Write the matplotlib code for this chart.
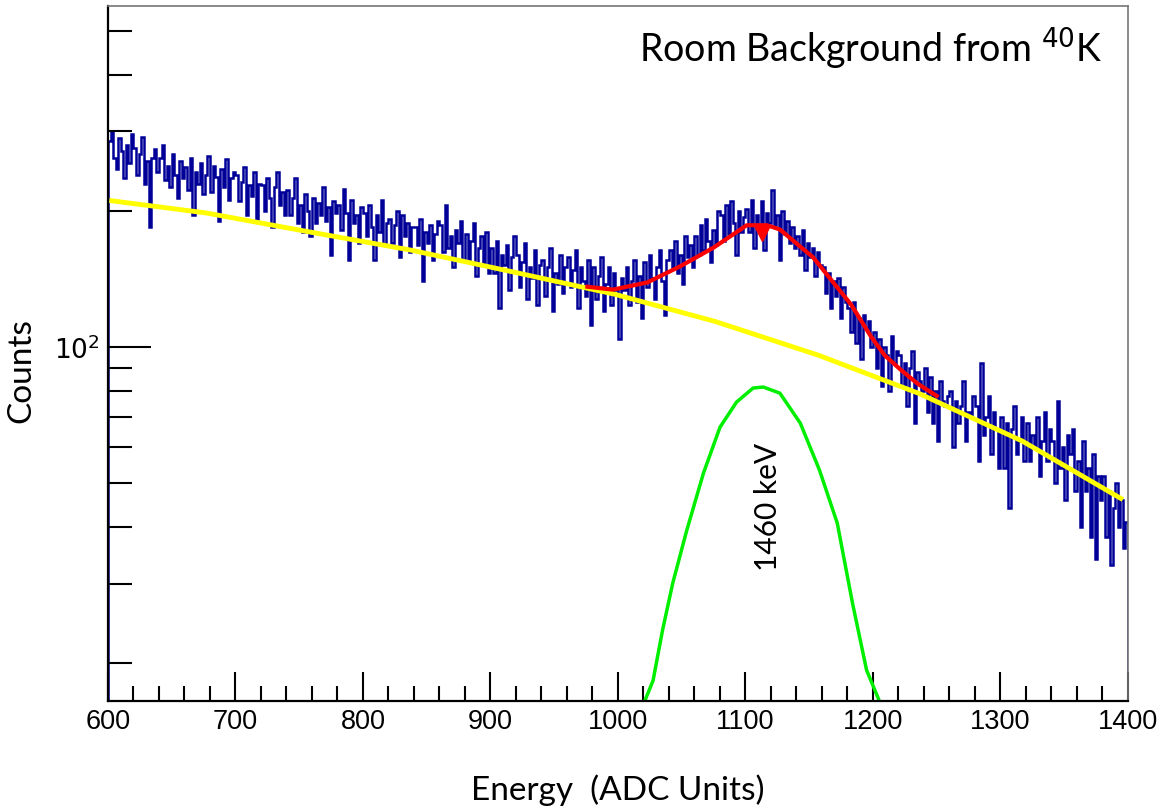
import numpy as np
import matplotlib.pyplot as plt
from matplotlib.ticker import FixedLocator, NullFormatter

# histogram: 2 ADC wide bins from 600 to 1400
edges = np.arange(600, 1401, 2)
counts = [285, 300, 262, 248, 290, 272, 236, 280, 255, 296,
          276, 240, 268, 292, 230, 258, 184, 262, 274, 244,
          262, 280, 234, 252, 226, 268, 240, 214, 258, 236,
          250, 222, 262, 196, 244, 230, 256, 218, 240, 264,
          220, 252, 238, 190, 248, 226, 260, 212, 236, 244,
          240, 210, 232, 250, 196, 228, 216, 244, 192, 230,
          228, 200, 236, 214, 184, 226, 244, 206, 220, 196,
          222, 196, 214, 236, 188, 206, 180, 218, 200, 176,
          214, 188, 208, 196, 226, 190, 204, 160, 210, 198,
          206, 182, 224, 198, 156, 212, 188, 196, 170, 204,
          198, 176, 206, 184, 156, 196, 180, 212, 168, 188,
          192, 170, 186, 200, 158, 196, 176, 188, 162, 184,
          184, 168, 192, 140, 180, 170, 186, 156, 178, 190,
          186, 162, 206, 166, 176, 150, 182, 170, 190, 156,
          178, 154, 172, 188, 144, 166, 176, 152, 180, 146,
          166, 146, 172, 122, 160, 152, 168, 134, 158, 176,
          160, 136, 154, 170, 128, 150, 142, 164, 124, 152,
          156, 130, 150, 166, 120, 146, 138, 160, 132, 150,
          158, 136, 148, 164, 122, 150, 140, 130, 156, 112,
          150, 128, 144, 158, 120, 138, 150, 124, 146, 134,
          104, 142, 134, 150, 124, 140, 156, 126, 144, 116,
          154, 136, 160, 142, 128, 150, 164, 140, 118, 156,
          164, 150, 172, 146, 160, 138, 176, 158, 168, 150,
          176, 160, 186, 164, 192, 172, 154, 182, 168, 200,
          196, 172, 206, 178, 210, 188, 160, 200, 180, 194,
          202, 180, 212, 166, 196, 186, 210, 164, 198, 188,
          222, 186, 196, 156, 200, 178, 190, 170, 184, 166,
          176, 160, 182, 148, 170, 158, 166, 144, 162, 152,
          150, 132, 146, 122, 140, 130, 142, 116, 136, 126,
          122, 108, 126, 102, 116, 94, 118, 110, 114, 100,
          108, 90, 104, 82, 100, 96, 80, 106, 92, 98,
          96, 82, 92, 74, 90, 98, 68, 88, 84, 80,
          90, 72, 86, 68, 80, 62, 84, 76, 74, 78,
          80, 60, 76, 68, 74, 84, 62, 72, 70, 78,
          74, 56, 92, 64, 70, 78, 58, 72, 66, 54,
          70, 54, 68, 44, 66, 74, 58, 62, 70, 56,
          68, 56, 64, 60, 70, 52, 62, 72, 56, 66,
          62, 50, 76, 54, 60, 46, 64, 58, 66, 48,
          56, 40, 62, 48, 54, 38, 58, 34, 52, 46,
          52, 38, 48, 33, 44, 50, 40, 46, 36, 41]

# background fit (yellow)
bkg_x = [601, 677, 757, 837, 916, 997, 1076, 1157, 1236, 1317, 1396]
bkg_y = [211, 198, 180, 164, 147, 131, 114, 96, 79, 62, 46]

# total fit (red)
fit_x = [976, 996, 1023, 1049, 1075, 1101, 1117, 1127, 1153, 1183, 1198, 1209, 1222, 1235, 1250]
fit_y = [136, 134, 139, 151, 166, 186, 186, 182, 158, 124, 106, 96, 89, 83, 78]

# gaussian peak (green)
peak_x = [1021, 1027.5, 1035, 1043, 1054, 1067, 1080, 1093, 1106, 1114, 1127, 1143, 1158, 1172, 1184, 1195, 1205]
peak_y = [16.5, 18.3, 23.7, 30.1, 39.4, 52.6, 66.5, 75.6, 81.2, 81.6, 79.1, 67.9, 53.5, 40.8, 27.1, 19.3, 16.5]

fig = plt.figure(figsize=(11.66, 8.09), dpi=100)
ax = fig.add_axes([0.0926, 0.1335, 0.8748, 0.8591])

ax.stairs(counts, edges, color='#000099', lw=1.8)
ax.plot(bkg_x, bkg_y, color='#ffff00', lw=3.5, solid_capstyle='butt')
ax.plot(fit_x, fit_y, color='#ff0000', lw=3)
ax.plot([1113], [179], marker='v', color='#ff0000', ms=11)
ax.plot(peak_x, peak_y, color='#00ee00', lw=2.5)

ax.set_yscale('log')
ax.set_xlim(600, 1400)
ax.set_ylim(16.5, 568)

ax.yaxis.set_major_locator(FixedLocator([100]))
ax.yaxis.set_minor_locator(FixedLocator([20, 30, 40, 50, 60, 70, 80, 90, 200, 300, 400, 500]))
ax.yaxis.set_minor_formatter(NullFormatter())
ax.set_yticklabels(['$10^2$'])
ax.xaxis.set_major_locator(FixedLocator(np.arange(600, 1401, 100)))
ax.xaxis.set_minor_locator(FixedLocator(np.arange(600, 1401, 20)))

ax.tick_params(axis='y', which='major', direction='in', length=31, width=1.5, labelsize=19, pad=6)
ax.tick_params(axis='y', which='minor', direction='in', length=17, width=1.5)
ax.tick_params(axis='x', which='major', direction='in', length=21, width=1.5, labelsize=19.5, pad=6)
ax.tick_params(axis='x', which='minor', direction='in', length=11, width=1.5)
for lab in ax.get_xticklabels() + ax.get_yticklabels():
    lab.set_family('Liberation Sans')

ax.spines['left'].set_linewidth(1.6)
ax.spines['bottom'].set_linewidth(1.6)
for s in ['top', 'right']:
    ax.spines[s].set_color('#777777')
    ax.spines[s].set_linewidth(1.2)

ax.set_xlabel('Energy  (ADC Units)', family='Lato', fontsize=24, labelpad=28)
ax.set_ylabel('Counts', family='Lato', fontsize=24)
ax.yaxis.set_label_coords(-0.07, 0.476)

ax.text(0.975, 0.972, 'Room Background from $^{40}$K', transform=ax.transAxes,
        ha='right', va='top', family='Lato', fontsize=27)
ax.text(1118, 44.3, '1460 keV', rotation=90, ha='center', va='center',
        family='Lato', fontsize=21.5)

fig.savefig('out.png', dpi=100)
